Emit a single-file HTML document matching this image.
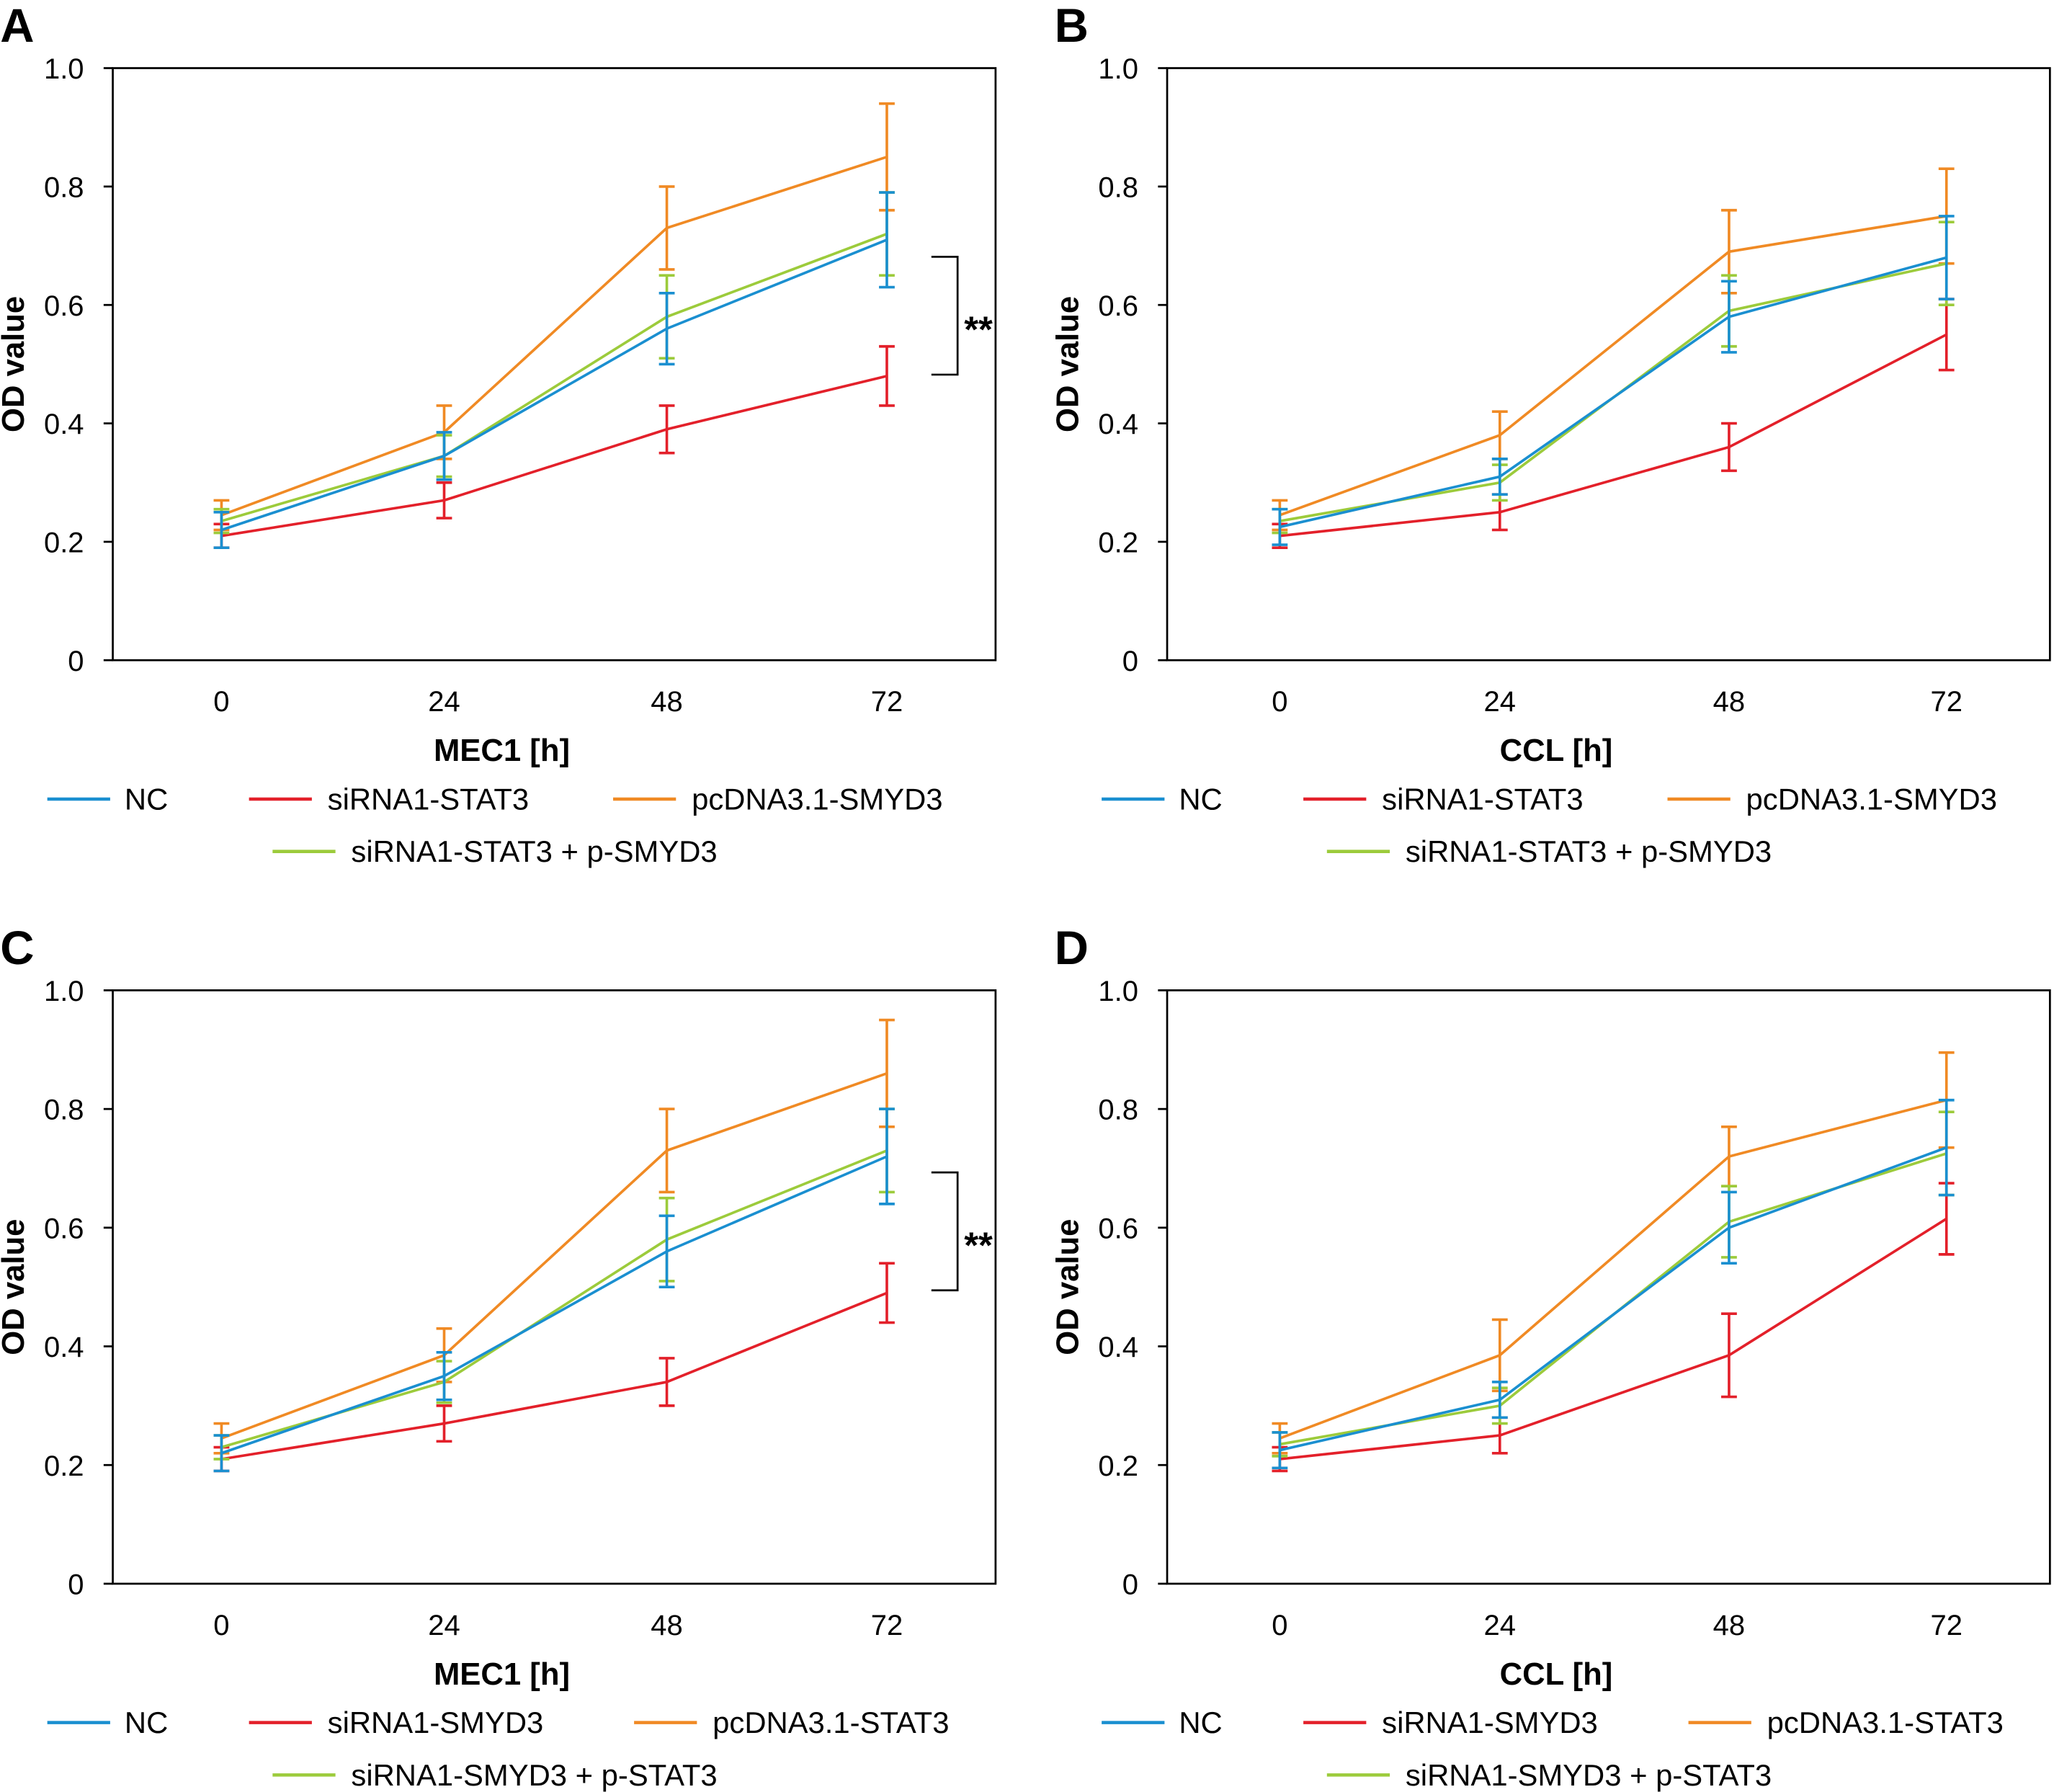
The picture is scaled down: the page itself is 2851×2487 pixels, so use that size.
<!DOCTYPE html>
<html><head><meta charset="utf-8"><style>html,body{margin:0;padding:0;background:#fff}svg{display:block}</style></head>
<body>
<svg id="s" xmlns="http://www.w3.org/2000/svg" width="2851" height="2487" viewBox="0 0 1568 1368" font-family="Liberation Sans, DejaVu Sans, sans-serif"></svg>
<script>
const C={nc:'#1a8fd0',r:'#e3202a',o:'#f08a24',g:'#9ccb3b'};
let h='<rect width="1568" height="1368" fill="#fff"/>';
function panel(L,bx,top,bot,xs,data,xl,leg,legOff3,sig){
 const R=bx+674, yv=v=>bot-(bot-top)*v;
 h+=`<text x="${bx-86}" y="${top-20}" font-size="36" font-weight="bold">${L}</text>`;
 h+=`<rect x="${bx}" y="${top}" width="674" height="${bot-top}" fill="none" stroke="#000" stroke-width="1.5"/>`;
 for(let i=0;i<=5;i++){const v=i*0.2,y=yv(v);h+=`<line x1="${bx-7}" x2="${bx}" y1="${y}" y2="${y}" stroke="#000" stroke-width="1.5"/><text x="${bx-22}" y="${y+8}" font-size="22" text-anchor="end">${i==0?'0':i==5?'1.0':v.toFixed(1)}</text>`;}
 [0,24,48,72].forEach((t,i)=>{h+=`<text x="${xs[i]}" y="${bot+39}" font-size="22" text-anchor="middle">${t}</text>`;});
 h+=`<text x="${(bx+R)/2-40}" y="${bot+77}" font-size="24" font-weight="bold" text-anchor="middle">${xl}</text>`;
 h+=`<text transform="translate(${bx-68},${(top+bot)/2}) rotate(-90)" font-size="24" font-weight="bold" text-anchor="middle">OD value</text>`;
 for(const k of ['r','o','g','nc']){const [m,e]=data[k];
  let p=m.map((v,i)=>xs[i]+','+yv(v)).join(' ');
  h+=`<polyline points="${p}" fill="none" stroke="${C[k]}" stroke-width="2"/>`;
  m.forEach((v,i)=>{const x=xs[i],a=yv(v+e[i]),b=yv(v-e[i]);h+=`<path d="M${x} ${a}V${b}M${x-6} ${a}h12M${x-6} ${b}h12" stroke="${C[k]}" stroke-width="2" fill="none"/>`;});
 }
 if(sig){h+=`<path d="M${bx+625} ${sig[0]}H${bx+645}V${sig[1]}H${bx+625}" fill="none" stroke="#000" stroke-width="1.5"/><text x="${bx+650}" y="${(sig[0]+sig[1])/2+20}" font-size="28" font-weight="bold">**</text>`;}
 const o=bx-86,ly=bot+106;
 const items=[[C.nc,36,95,ly,leg[0]],[C.r,190,250,ly,leg[1]],[C.o,legOff3,legOff3+60,ly,leg[2]],[C.g,208,268,ly+40,leg[3]]];
 for(const [c,x1,tx,y,t] of items){h+=`<line x1="${o+x1}" x2="${o+x1+48}" y1="${y}" y2="${y}" stroke="${c}" stroke-width="2.5"/><text x="${o+tx}" y="${y+8}" font-size="23">${t}</text>`;}
}
const xA=[169,339,509,677],xB=[977,1145,1320,1486];
const lg1=['NC','siRNA1-STAT3','pcDNA3.1-SMYD3','siRNA1-STAT3 + p-SMYD3'];
const lg2=['NC','siRNA1-SMYD3','pcDNA3.1-STAT3','siRNA1-SMYD3 + p-STAT3'];
panel('A',86,52,504,xA,{nc:[[.22,.345,.56,.71],[.03,.04,.06,.08]],r:[[.21,.27,.39,.48],[.02,.03,.04,.05]],o:[[.245,.385,.73,.85],[.025,.045,.07,.09]],g:[[.235,.345,.58,.72],[.02,.035,.07,.07]]},'MEC1 [h]',lg1,468,[196,286]);
panel('B',891,52,504,xB,{nc:[[.225,.31,.58,.68],[.03,.03,.06,.07]],r:[[.21,.25,.36,.55],[.02,.03,.04,.06]],o:[[.245,.38,.69,.75],[.025,.04,.07,.08]],g:[[.235,.30,.59,.67],[.02,.03,.06,.07]]},'CCL [h]',lg1,468,null);
panel('C',86,756,1209,xA,{nc:[[.22,.35,.56,.72],[.03,.04,.06,.08]],r:[[.21,.27,.34,.49],[.02,.03,.04,.05]],o:[[.245,.385,.73,.86],[.025,.045,.07,.09]],g:[[.23,.34,.58,.73],[.02,.035,.07,.07]]},'MEC1 [h]',lg2,484,[895,985]);
panel('D',891,756,1209,xB,{nc:[[.225,.31,.60,.735],[.03,.03,.06,.08]],r:[[.21,.25,.385,.615],[.02,.03,.07,.06]],o:[[.245,.385,.72,.815],[.025,.06,.05,.08]],g:[[.235,.30,.61,.725],[.02,.03,.06,.07]]},'CCL [h]',lg2,484,null);
document.getElementById('s').innerHTML=h;
</script>
</body></html>
